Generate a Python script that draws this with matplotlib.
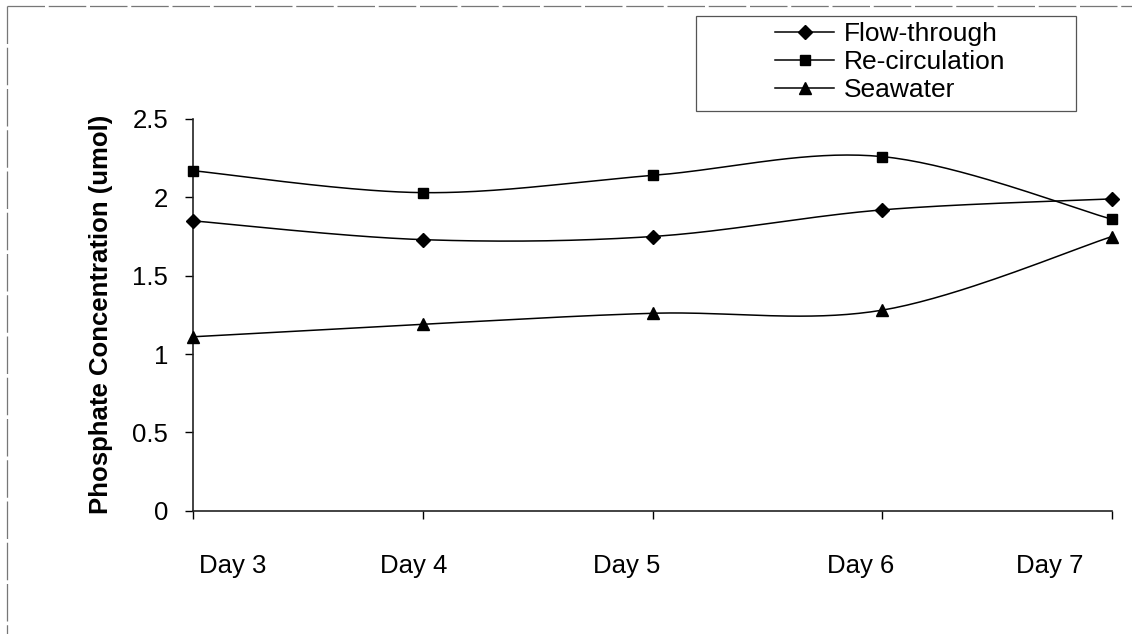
import numpy as np
import matplotlib
matplotlib.use("Agg")
import matplotlib.pyplot as plt
from matplotlib.lines import Line2D
from matplotlib.patches import Rectangle
from matplotlib.transforms import ScaledTranslation

plt.rcParams['font.family'] = ['Liberation Sans', 'DejaVu Sans']

# ---- data ----
days = ["Day 3", "Day 4", "Day 5", "Day 6", "Day 7"]
flow_through = [1.85, 1.73, 1.75, 1.92, 1.99]
recirculation = [2.17, 2.03, 2.14, 2.26, 1.86]
seawater = [1.11, 1.19, 1.26, 1.28, 1.75]
series_names = ["Flow-through", "Re-circulation", "Seawater"]
y_ticks = [0, 0.5, 1, 1.5, 2, 2.5]
y_tick_labels = ["0", "0.5", "1", "1.5", "2", "2.5"]


def smooth(xs, ys, n=40):
    pts = np.column_stack([xs, ys]).astype(float)
    out = []
    m = len(pts)
    for i in range(m - 1):
        p0 = pts[i - 1] if i > 0 else pts[i]
        p1 = pts[i]
        p2 = pts[i + 1]
        p3 = pts[i + 2] if i + 2 < m else pts[i + 1]
        c1 = p1 + (p2 - p0) / 6.0
        c2 = p2 - (p3 - p1) / 6.0
        t = np.linspace(0, 1, n)[:, None]
        seg = ((1 - t) ** 3) * p1 + 3 * ((1 - t) ** 2) * t * c1 + 3 * (1 - t) * t ** 2 * c2 + t ** 3 * p2
        if i > 0:
            seg = seg[1:]
        out.append(seg)
    out = np.vstack(out)
    return out[:, 0], out[:, 1]


W, H = 1132, 634
fig = plt.figure(figsize=(W / 100, H / 100), dpi=100)
fig.patch.set_facecolor("white")

ax_l, ax_r, ax_t, ax_b = 193, 1112, 119, 510.7
ax = fig.add_axes([ax_l / W, 1 - ax_b / H, (ax_r - ax_l) / W, (ax_b - ax_t) / H])

x = np.arange(len(days))
markers = ["D", "s", "^"]
msizes = [7, 7.5, 9]
handles = []
for vals, mk, ms, name in zip([flow_through, recirculation, seawater], markers, msizes, series_names):
    sx, sy = smooth(x, vals)
    ax.plot(sx, sy, color="black", lw=1.1, clip_on=False, zorder=3)
    ax.plot(x, vals, linestyle="none", marker=mk, ms=ms, color="black", clip_on=False, zorder=4)
    handles.append(Line2D([], [], color="black", lw=1.1, marker=mk, ms=ms))

ax.set_xlim(0, 4)
ax.set_ylim(0, 2.5)
ax.set_yticks(y_ticks)
ax.set_yticklabels(y_tick_labels)
ax.set_xticks(x)
ax.set_xticklabels(days)

for s in ["top", "right"]:
    ax.spines[s].set_visible(False)
for s in ["left", "bottom"]:
    ax.spines[s].set_linewidth(1.2)
    ax.spines[s].set_color("#222222")

ax.tick_params(axis="y", direction="out", length=6, width=1, labelsize=18.5, pad=12, colors="black")
ax.tick_params(axis="x", direction="out", length=6, width=1, labelsize=18.5, pad=25, colors="black")

# Shift category labels as in the original
offsets_px = [40, -9, -26, -22, -62]
for lab, dx in zip(ax.get_xticklabels(), offsets_px):
    lab.set_transform(lab.get_transform() + ScaledTranslation(dx / 100, 0, fig.dpi_scale_trans))

ax.set_ylabel("Phosphate Concentration (umol)", fontsize=18.5, fontweight="bold")
ax.yaxis.set_label_coords((113 - ax_l) / (ax_r - ax_l), 0.5)

# Legend box
fig.add_artist(Rectangle((696 / W, 1 - 111 / H), (1076 - 696) / W, (111 - 16) / H,
                         transform=fig.transFigure, fill=False, edgecolor="#555555", lw=0.9))
fig.legend(handles, series_names, loc="upper left", bbox_to_anchor=(775 / W, 1 - 22 / H),
           frameon=False, fontsize=19, handlelength=2.25, handletextpad=0.35,
           labelspacing=0.15, borderpad=0, borderaxespad=0)

# Outer chart border (top and left)
fig.add_artist(Line2D([7 / W, 1.0], [1 - 6 / H, 1 - 6 / H], transform=fig.transFigure,
                      color="#777777", lw=0.9, linestyle=(0, (30, 3))))
fig.add_artist(Line2D([7 / W, 7 / W], [1 - 6 / H, 0], transform=fig.transFigure,
                      color="#777777", lw=0.9, linestyle=(0, (30, 3))))

fig.savefig("out.png", dpi=100, facecolor="white")
